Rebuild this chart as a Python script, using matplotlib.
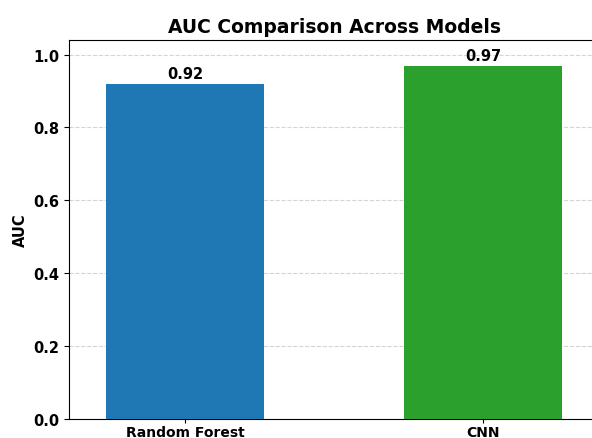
import matplotlib
matplotlib.use("Agg")
import matplotlib.pyplot as plt

models = ["Random Forest", "CNN"]
auc = [0.92, 0.97]
colors = ["#1f77b4", "#2ca02c"]

fig = plt.figure(figsize=(5.92, 4.39), dpi=100)
ax = fig.add_axes([69 / 592, 19 / 439, 530 / 592, 379 / 439])

bars = ax.bar(range(len(models)), auc, width=0.53, color=colors, zorder=3)
for b, v in zip(bars, auc):
    ax.text(b.get_x() + b.get_width() / 2, v + 0.008, f"{v:.2f}",
            ha="center", va="bottom", fontsize=10.5, fontweight="bold", zorder=4)

ax.set_xlim(-0.39, 1.39)
ax.set_ylim(0, 1.04)
ax.set_xticks(range(len(models)))
ax.set_xticklabels(models, fontsize=10, fontweight="bold")
ax.set_yticks([0.0, 0.2, 0.4, 0.6, 0.8, 1.0])
ax.set_yticklabels([f"{t:.1f}" for t in ax.get_yticks()], fontsize=10.5, fontweight="bold")
ax.set_ylabel("AUC", fontsize=10.5, fontweight="bold")
ax.set_title("AUC Comparison Across Models", fontsize=13.5, fontweight="bold", pad=6)
ax.grid(axis="y", linestyle="--", color="#d0d0d0", alpha=0.9, zorder=0)
ax.tick_params(axis="x", length=3, pad=1)

fig.savefig("out.png", dpi=100)
